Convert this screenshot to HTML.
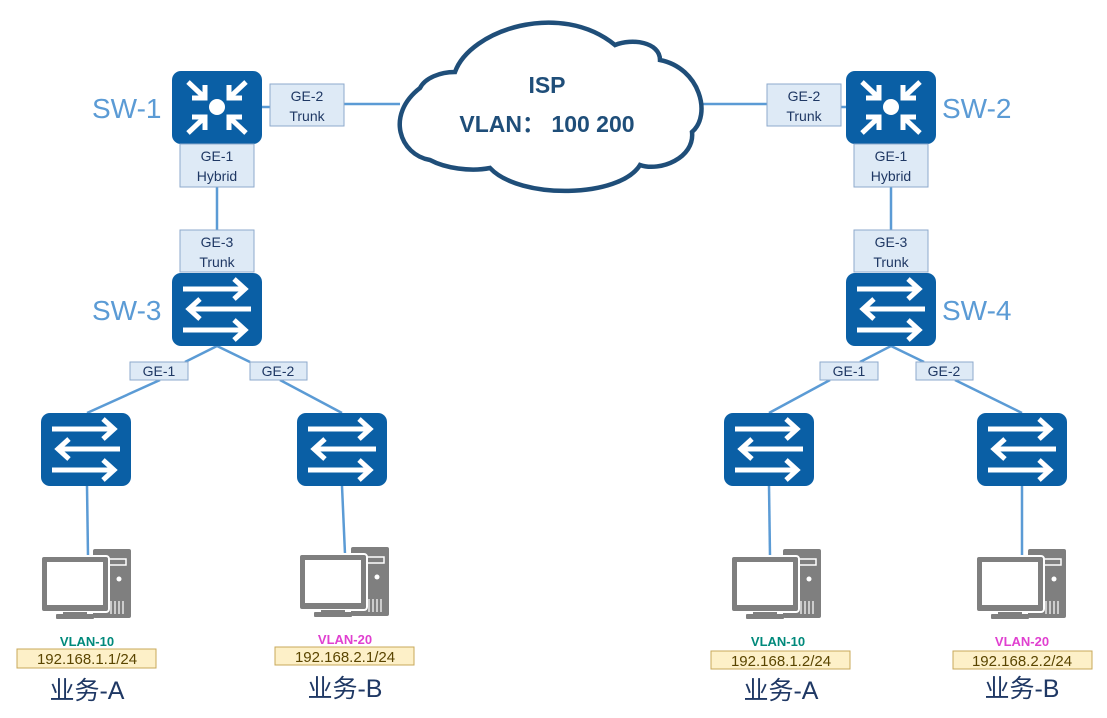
<!DOCTYPE html>
<html><head><meta charset="utf-8"><style>
html,body{margin:0;padding:0;background:#fff;}
svg{display:block}
.p{font-family:"Liberation Sans","Noto Sans CJK SC",sans-serif;}
</style></head><body>
<svg width="1107" height="718" viewBox="0 0 1107 718" xmlns="http://www.w3.org/2000/svg" class="p">
<defs>
<g id="sw">
<rect x="0" y="0" width="90" height="73" rx="9" fill="#0a5fa5"/>
<g stroke="#fff" stroke-width="5" fill="none" stroke-linejoin="miter">
<line x1="11" y1="16" x2="72" y2="16"/><polyline points="62,6 73,16 62,26"/>
<line x1="79" y1="36" x2="16" y2="36"/><polyline points="28,26 17,36 28,46"/>
<line x1="11" y1="57" x2="72" y2="57"/><polyline points="62,47 73,57 62,67"/>
</g></g>
<g id="rt">
<rect x="0" y="0" width="90" height="73" rx="9" fill="#0a5fa5"/>
<circle cx="45" cy="36" r="8" fill="#fff"/>
<g stroke="#fff" stroke-width="5" fill="none">
<line x1="16" y1="11" x2="33" y2="27"/><polyline points="20,27 33,27 33,14"/>
<line x1="74" y1="11" x2="57" y2="27"/><polyline points="70,27 57,27 57,14"/>
<line x1="16" y1="62" x2="33" y2="46"/><polyline points="20,46 33,46 33,59"/>
<line x1="74" y1="62" x2="57" y2="46"/><polyline points="70,46 57,46 57,59"/>
</g></g>
<g id="pc">
<rect x="52" y="-7" width="38" height="69" rx="2" fill="#7f7f7f"/>
<rect x="57" y="3" width="28" height="6" fill="none" stroke="#fff" stroke-width="1.5"/>
<circle cx="78" cy="23" r="2.5" fill="#fff"/>
<g stroke="#fff" stroke-width="1.2"><line x1="70" y1="45" x2="70" y2="58"/><line x1="74" y1="45" x2="74" y2="58"/><line x1="78" y1="45" x2="78" y2="58"/><line x1="82" y1="45" x2="82" y2="58"/></g>
<rect x="0" y="0" width="68" height="56" rx="3" fill="#7f7f7f" stroke="#fff" stroke-width="2"/>
<rect x="6" y="6" width="56" height="43" fill="#fff"/>
<rect x="22" y="56" width="24" height="3" fill="#7f7f7f"/>
<rect x="15" y="58" width="38" height="5" rx="1" fill="#7f7f7f"/>
</g>
</defs>

<!-- lines -->
<g stroke="#5b9bd5" stroke-width="2.5" fill="none">
<line x1="262" y1="107" x2="270" y2="107"/>
<line x1="344" y1="104" x2="400" y2="104"/>
<line x1="698" y1="104" x2="767" y2="104"/>
<line x1="841" y1="107" x2="846" y2="107"/>
<line x1="217" y1="187" x2="217" y2="230"/>
<line x1="891" y1="187" x2="891" y2="230"/>
<line x1="217" y1="346" x2="185" y2="362"/><line x1="217" y1="346" x2="250" y2="362"/>
<line x1="891" y1="346" x2="860" y2="362"/><line x1="891" y1="346" x2="924" y2="362"/>
<line x1="160" y1="380" x2="87" y2="413"/><line x1="280" y1="380" x2="342" y2="413"/>
<line x1="830" y1="380" x2="769" y2="413"/><line x1="955" y1="380" x2="1022" y2="413"/>
<line x1="87" y1="486" x2="88" y2="556"/><line x1="342" y1="486" x2="345" y2="554"/>
<line x1="769" y1="486" x2="770" y2="556"/><line x1="1022" y1="486" x2="1022" y2="556"/>
</g>

<!-- cloud -->
<path d="M430,160 C400,155 385,115 420,88 C425,78 440,72 455,72 C470,30 560,0 615,45 C632,38 660,42 660,60 C700,68 712,115 692,132 C695,158 660,172 640,165 C620,198 520,200 490,168 C470,172 445,168 430,160 Z" fill="#fff" stroke="#1f4e79" stroke-width="4.5"/>
<text x="547" y="93" font-size="23" font-weight="bold" fill="#1f4e79" text-anchor="middle">ISP</text>
<text x="547" y="132" font-size="23" font-weight="bold" fill="#1f4e79" text-anchor="middle">VLAN：  100 200</text>

<!-- devices -->
<use href="#rt" x="172" y="71"/>
<use href="#rt" x="846" y="71"/>
<use href="#sw" x="172" y="273"/>
<use href="#sw" x="846" y="273"/>
<use href="#sw" x="41" y="413"/>
<use href="#sw" x="297" y="413"/>
<use href="#sw" x="724" y="413"/>
<use href="#sw" x="977" y="413"/>
<use href="#pc" x="41" y="556"/>
<use href="#pc" x="299" y="554"/>
<use href="#pc" x="731" y="556"/>
<use href="#pc" x="976" y="556"/>

<!-- SW labels -->
<g font-size="28" fill="#5b9bd5">
<text x="92" y="118">SW-1</text>
<text x="92" y="320">SW-3</text>
<text x="942" y="118">SW-2</text>
<text x="942" y="320">SW-4</text>
</g>

<!-- port boxes -->
<g fill="#deeaf6" stroke="#8eaacc" stroke-width="1">
<rect x="270" y="84" width="74" height="42"/>
<rect x="180" y="144" width="74" height="43"/>
<rect x="180" y="230" width="74" height="42"/>
<rect x="767" y="84" width="74" height="42"/>
<rect x="854" y="144" width="74" height="43"/>
<rect x="854" y="230" width="74" height="42"/>
<rect x="130" y="362" width="58" height="18"/>
<rect x="250" y="362" width="57" height="18"/>
<rect x="820" y="362" width="58" height="18"/>
<rect x="916" y="362" width="57" height="18"/>
</g>
<g font-size="14" fill="#1f3864" text-anchor="middle">
<text x="307" y="101">GE-2</text><text x="307" y="121">Trunk</text>
<text x="217" y="161">GE-1</text><text x="217" y="181">Hybrid</text>
<text x="217" y="247">GE-3</text><text x="217" y="267">Trunk</text>
<text x="804" y="101">GE-2</text><text x="804" y="121">Trunk</text>
<text x="891" y="161">GE-1</text><text x="891" y="181">Hybrid</text>
<text x="891" y="247">GE-3</text><text x="891" y="267">Trunk</text>
<text x="159" y="376">GE-1</text><text x="278" y="376">GE-2</text>
<text x="849" y="376">GE-1</text><text x="944" y="376">GE-2</text>
</g>

<!-- bottom labels -->
<g font-size="13" font-weight="bold" text-anchor="middle">
<text x="87" y="646" fill="#00897b">VLAN-10</text>
<text x="345" y="644" fill="#e040d0">VLAN-20</text>
<text x="778" y="646" fill="#00897b">VLAN-10</text>
<text x="1022" y="646" fill="#e040d0">VLAN-20</text>
</g>
<g fill="#fdf0c8" stroke="#c8a85a" stroke-width="1">
<rect x="17" y="649" width="139" height="19"/>
<rect x="275" y="647" width="139" height="18"/>
<rect x="711" y="651" width="139" height="18"/>
<rect x="953" y="651" width="139" height="18"/>
</g>
<g font-size="15" fill="#5a4500" text-anchor="middle">
<text x="87" y="664">192.168.1.1/24</text>
<text x="345" y="662">192.168.2.1/24</text>
<text x="781" y="666">192.168.1.2/24</text>
<text x="1022" y="666">192.168.2.2/24</text>
</g>
<g font-size="25" fill="#1f3864" text-anchor="middle">
<text x="87" y="699">业务-A</text>
<text x="345" y="697">业务-B</text>
<text x="781" y="699">业务-A</text>
<text x="1022" y="697">业务-B</text>
</g>
</svg>
</body></html>
